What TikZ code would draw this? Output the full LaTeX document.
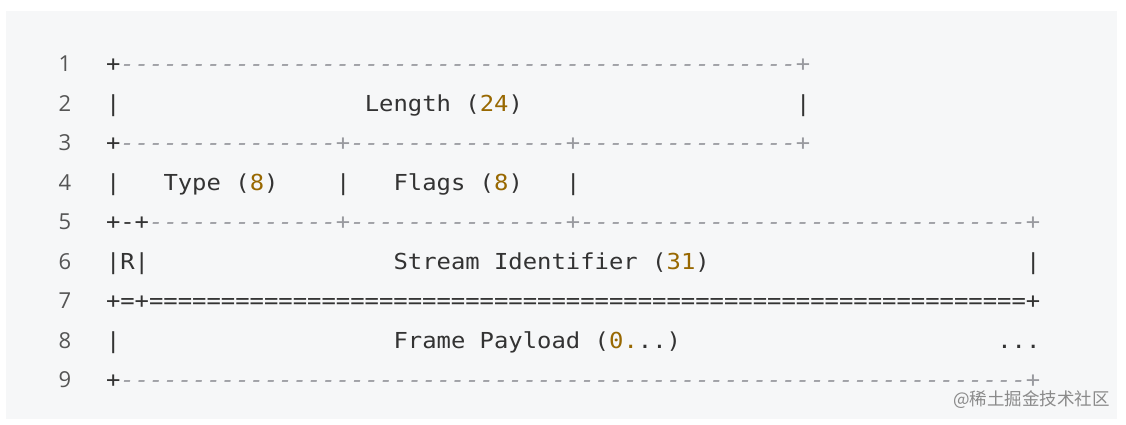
\documentclass[tikz,border=0pt]{standalone}
\usepackage{fontspec}
\newfontfamily\codefont{DejaVu Sans Mono}[FakeStretch=1.0853,Ligatures=TeXOff]
\newfontfamily\lnfont{Open Sans}
\newfontfamily\cjkfont{Noto Sans CJK SC}
\definecolor{codebg}{HTML}{F6F7F8}
\definecolor{codefg}{HTML}{333333}
\definecolor{cmtgray}{HTML}{999A9F}
\definecolor{numgold}{HTML}{986801}
\definecolor{lngray}{HTML}{555555}
\definecolor{markgray}{HTML}{8A8A8A}
% n copies of one character
\newcommand\charrun[2]{\foreach \k in {1,...,#1}{#2}}
\tikzset{
	code/.style={anchor=base west, inner sep=0pt, text=codefg, font=\codefont\fontsize{22}{26}\selectfont},
	cmt/.style={code, text=cmtgray, font=\codefont\itshape\fontsize{22}{26}\selectfont},
	num/.style={code, text=numgold},
	lineno/.style={anchor=base east, inner sep=0pt, text=lngray, font=\lnfont\fontsize{22}{26}\selectfont},
}
\begin{document}
\begin{tikzpicture}[x=1pt, y=-1pt]
	\useasboundingbox (0,0) rectangle (1126,424);
	\fill[codebg] (6,11) rectangle (1117,419);
	
	% line numbers
	\foreach \n in {1,...,9}
		\node[lineno] (ln\n) at (71.5, {71.5+39.5*(\n-1)}) {\n};
	
	% the frame layout, one character per column
	\begin{scope}[x=14.375pt, y=-39.5pt, shift={(105.8pt,-71.5pt)}]
		% row 1
		\node[code] (r1a) at (0,0) {+};
		\node[cmt] (r1b) at (1,0) {\charrun{47}{-}+};
		% row 2
		\node[code] (r2a) at (0,1) {|};
		\node[code] (len) at (18,1) {Length (};
		\node[num] (lenbits) at (26,1) {24};
		\node[code] (lenend) at (28,1) {)};
		\node[code] (r2b) at (48,1) {|};
		% row 3
		\node[code] (r3a) at (0,2) {+};
		\node[cmt] (r3b) at (1,2) {\charrun{15}{-}+\charrun{15}{-}+\charrun{15}{-}+};
		% row 4
		\node[code] (r4a) at (0,3) {|};
		\node[code] (type) at (4,3) {Type (};
		\node[num] (typebits) at (10,3) {8};
		\node[code] (typeend) at (11,3) {)};
		\node[code] (r4b) at (16,3) {|};
		\node[code] (flags) at (20,3) {Flags (};
		\node[num] (flagbits) at (27,3) {8};
		\node[code] (flagend) at (28,3) {)};
		\node[code] (r4c) at (32,3) {|};
		% row 5
		\node[code] (r5a) at (0,4) {+-+};
		\node[cmt] (r5b) at (3,4) {\charrun{13}{-}+\charrun{15}{-}+\charrun{31}{-}+};
		% row 6
		\node[code] (rbit) at (0,5) {|R|};
		\node[code] (sid) at (20,5) {Stream Identifier (};
		\node[num] (sidbits) at (39,5) {31};
		\node[code] (sidend) at (41,5) {)};
		\node[code] (r6b) at (64,5) {|};
		% row 7
		\node[code] (r7) at (0,6) {+=+\charrun{61}{=}+};
		% row 8
		\node[code] (r8a) at (0,7) {|};
		\node[code] (payload) at (20,7) {Frame Payload (};
		\node[num] (paybits) at (35,7) {0.};
		\node[code] (payend) at (37,7) {..)};
		\node[code] (more) at (62,7) {...};
		% row 9
		\node[code] (r9a) at (0,8) {+};
		\node[cmt] (r9b) at (1,8) {\charrun{63}{-}+};
	\end{scope}
	
	\node[anchor=east, inner sep=0pt, text=markgray, font=\cjkfont\fontsize{17.5}{20}\selectfont] (mark) at (1110,400) {@稀土掘金技术社区};
\end{tikzpicture}
\end{document}
